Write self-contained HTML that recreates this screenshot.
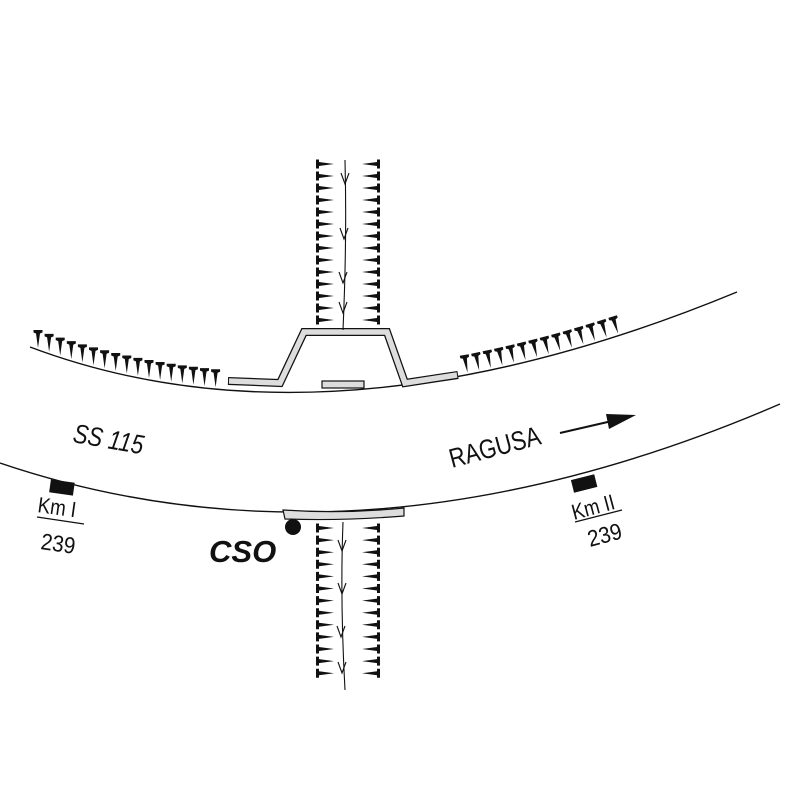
<!DOCTYPE html>
<html><head><meta charset="utf-8"><style>
html,body{margin:0;padding:0;background:#fff}
svg{display:block}
text{font-family:"Liberation Sans",Arial,sans-serif;fill:#111}
</style></head><body>
<svg id="s" width="787" height="787" viewBox="0 0 787 787" xmlns="http://www.w3.org/2000/svg">
<rect width="787" height="787" fill="#fff"/>
<g id="marks" fill="#111"></g>
<path d="M30,347 Q330,460 737,292" fill="none" stroke="#111" stroke-width="1.4"/>
<path d="M0,463 Q360,585 780,404" fill="none" stroke="#111" stroke-width="1.4"/>
<path d="M228,381 L280,383 L304,332 L387,332 L405,383 L458,375" fill="none" stroke="#111" stroke-width="8" stroke-linejoin="miter"/>
<path d="M229,381 L280,383 L304,332 L387,332 L405,383 L457,375" fill="none" stroke="#ddd" stroke-width="5.5" stroke-linejoin="miter"/>
<rect x="322" y="381" width="42" height="7" fill="#ddd" stroke="#111" stroke-width="1.2"/>
<path d="M283,510 Q343,514 404,508 L404,516 Q343,521 285,519 Z" fill="#ddd" stroke="#111" stroke-width="1.2"/>
<path d="M345,160 Q347,240 343,330" fill="none" stroke="#111" stroke-width="1.1"/>
<path d="M343,522 Q340,600 345,690" fill="none" stroke="#111" stroke-width="1.1"/>
<g fill="none" stroke="#111" stroke-width="1.1">
<path d="M341,173 L345,184 L349,173"/>
<path d="M340,228 L344,239 L348,228"/>
<path d="M339,272 L343,283 L347,272"/>
<path d="M339,302 L343,313 L347,302"/>
<path d="M338,540 L342,551 L346,540"/>
<path d="M338,583 L342,594 L346,583"/>
<path d="M337,626 L341,637 L345,626"/>
<path d="M338,662 L342,673 L346,662"/>
</g>
<rect x="50" y="481" width="24" height="13" fill="#111" transform="rotate(8 62 487)"/>
<rect x="572" y="477" width="24" height="13" fill="#111" transform="rotate(-14 584 483)"/>
<circle cx="293" cy="527" r="8" fill="#111"/>
<line x1="560" y1="433" x2="612" y2="421" stroke="#111" stroke-width="2"/>
<polygon points="606,414 636,415 609,429" fill="#111"/>
<text font-size="27" font-style="italic" transform="translate(72,442) rotate(10) scale(0.82,1)">SS 115</text>
<text font-size="27" transform="translate(452,468) rotate(-15) scale(0.82,1)">RAGUSA</text>
<text font-size="22" transform="translate(37,512) rotate(8) scale(0.85,1)">Km I</text>
<line x1="37" y1="517" x2="84" y2="524" stroke="#111" stroke-width="1.2"/>
<text font-size="23" transform="translate(40,549) rotate(8) scale(0.9,1)">239</text>
<text font-size="22" transform="translate(574,520) rotate(-15) scale(0.85,1)">Km II</text>
<line x1="575" y1="522" x2="622" y2="510" stroke="#111" stroke-width="1.2"/>
<text font-size="23" transform="translate(590,547) rotate(-15) scale(0.9,1)">239</text>
<text x="209" y="562" font-size="31" font-weight="bold" font-style="italic">CSO</text>
</svg>
<script>
(function(){
var g=document.getElementById('marks');var NS='http://www.w3.org/2000/svg';
function add(d){var p=document.createElementNS(NS,'path');p.setAttribute('d',d);g.appendChild(p);}
function col(y0,n,dy){for(var i=0;i<n;i++){var y=y0+i*dy;
 add('M316,'+(y-4.5)+' L319,'+(y-4.5)+' L319,'+(y-2)+' L334,'+y+' L319,'+(y+2)+' L319,'+(y+4.5)+' L316,'+(y+4.5)+'Z');
 add('M380,'+(y-4.5)+' L377,'+(y-4.5)+' L377,'+(y-2)+' L362,'+y+' L377,'+(y+2)+' L377,'+(y+4.5)+' L380,'+(y+4.5)+'Z');}}
col(164,14,12);col(528,13,12.1);
var P0=[30,347],P1=[330,460],P2=[737,292];
function q(t){var a=(1-t)*(1-t),b=2*t*(1-t),c=t*t;return [a*P0[0]+b*P1[0]+c*P2[0],a*P0[1]+b*P1[1]+c*P2[1]];}
function tan(t){return [2*(1-t)*(P1[0]-P0[0])+2*t*(P2[0]-P1[0]),2*(1-t)*(P1[1]-P0[1])+2*t*(P2[1]-P1[1])];}
function tx(x){var lo=0,hi=1;for(var k=0;k<40;k++){var m=(lo+hi)/2;if(q(m)[0]<x)lo=m;else hi=m;}return lo;}
function mark(x,tilt){var t=tx(x),p=q(t),d=tan(t),L=Math.hypot(d[0],d[1]);var ux=d[0]/L,uy=d[1]/L;var nx=uy,ny=-ux;
 if(!tilt){nx=0;ny=-1;ux=1;uy=0;}
 var bx=p[0]+nx*20,by=p[1]+ny*20;
 function pt(a,b){return (bx+ux*a+nx*b).toFixed(1)+','+(by+uy*a+ny*b).toFixed(1);}
 add('M'+pt(-4.5,0)+' L'+pt(4.5,0)+' L'+pt(4.5,-2.5)+' L'+pt(2,-3.5)+' L'+pt(0,-18)+' L'+pt(-2,-3.5)+' L'+pt(-4.5,-2.5)+'Z');}
for(var x=38;x<=216;x+=11.1)mark(x,false);
for(var x=468;x<=630;x+=11.6)mark(x,true);
})();
</script>
</body></html>
